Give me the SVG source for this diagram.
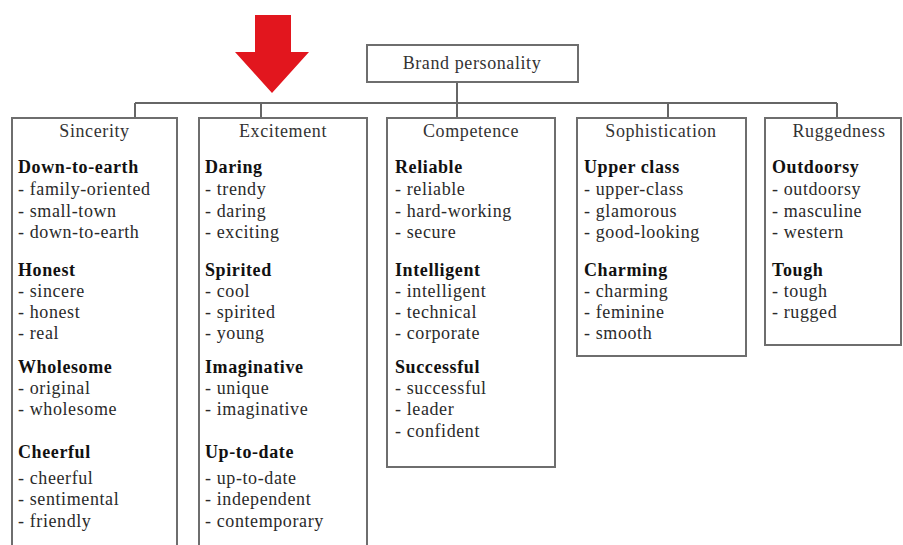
<svg xmlns="http://www.w3.org/2000/svg" width="903" height="545" viewBox="0 0 903 545">
  <style>
    .box { fill: #ffffff; stroke: #6e6e6e; stroke-width: 2; }
    .wire { fill: none; stroke: #666666; stroke-width: 2; }
    text { font-family: "Liberation Serif", "Times New Roman", serif; font-size: 18px; letter-spacing: 0.6px; fill: #2a2a2a; }
    .title { text-anchor: middle; fill: #333333; }
    .head { font-weight: bold; fill: #111111; }
  </style>
  <rect width="903" height="545" fill="#ffffff"/>

  <!-- red pointer arrow -->
  <polygon points="255,15 291,15 291,52 309,52 272,93 235,52 255,52" fill="#e2161e"/>

  <!-- connectors -->
  <g id="connectors">
    <path class="wire" d="M457,82 V103"/>
    <path class="wire" d="M135,103 H837"/>
    <path class="wire" d="M135,103 V118 M261,103 V118 M457,103 V118 M668,103 V118 M837,103 V118"/>
  </g>

  <g id="brand-personality">
    <rect class="box" x="367" y="45" width="211" height="37"/>
    <text class="title" x="472" y="69">Brand personality</text>
  </g>

  <g id="sincerity">
    <rect class="box" x="12" y="118" width="165" height="440"/>
    <text class="title" x="94.5" y="137">Sincerity</text>
    <text class="head" x="18" y="173">Down-to-earth</text>
    <text x="18" y="195">- family-oriented</text>
    <text x="18" y="217">- small-town</text>
    <text x="18" y="238">- down-to-earth</text>
    <text class="head" x="18" y="276">Honest</text>
    <text x="18" y="297">- sincere</text>
    <text x="18" y="318">- honest</text>
    <text x="18" y="339">- real</text>
    <text class="head" x="18" y="373">Wholesome</text>
    <text x="18" y="394">- original</text>
    <text x="18" y="415">- wholesome</text>
    <text class="head" x="18" y="458">Cheerful</text>
    <text x="18" y="484">- cheerful</text>
    <text x="18" y="505">- sentimental</text>
    <text x="18" y="527">- friendly</text>
  </g>

  <g id="excitement">
    <rect class="box" x="199" y="118" width="168" height="440"/>
    <text class="title" x="283" y="137">Excitement</text>
    <text class="head" x="205" y="173">Daring</text>
    <text x="205" y="195">- trendy</text>
    <text x="205" y="217">- daring</text>
    <text x="205" y="238">- exciting</text>
    <text class="head" x="205" y="276">Spirited</text>
    <text x="205" y="297">- cool</text>
    <text x="205" y="318">- spirited</text>
    <text x="205" y="339">- young</text>
    <text class="head" x="205" y="373">Imaginative</text>
    <text x="205" y="394">- unique</text>
    <text x="205" y="415">- imaginative</text>
    <text class="head" x="205" y="458">Up-to-date</text>
    <text x="205" y="484">- up-to-date</text>
    <text x="205" y="505">- independent</text>
    <text x="205" y="527">- contemporary</text>
  </g>

  <g id="competence">
    <rect class="box" x="387" y="118" width="168" height="349"/>
    <text class="title" x="471" y="137">Competence</text>
    <text class="head" x="395" y="173">Reliable</text>
    <text x="395" y="195">- reliable</text>
    <text x="395" y="217">- hard-working</text>
    <text x="395" y="238">- secure</text>
    <text class="head" x="395" y="276">Intelligent</text>
    <text x="395" y="297">- intelligent</text>
    <text x="395" y="318">- technical</text>
    <text x="395" y="339">- corporate</text>
    <text class="head" x="395" y="373">Successful</text>
    <text x="395" y="394">- successful</text>
    <text x="395" y="415">- leader</text>
    <text x="395" y="437">- confident</text>
  </g>

  <g id="sophistication">
    <rect class="box" x="577" y="118" width="169" height="238"/>
    <text class="title" x="661" y="137">Sophistication</text>
    <text class="head" x="584" y="173">Upper class</text>
    <text x="584" y="195">- upper-class</text>
    <text x="584" y="217">- glamorous</text>
    <text x="584" y="238">- good-looking</text>
    <text class="head" x="584" y="276">Charming</text>
    <text x="584" y="297">- charming</text>
    <text x="584" y="318">- feminine</text>
    <text x="584" y="339">- smooth</text>
  </g>

  <g id="ruggedness">
    <rect class="box" x="765" y="118" width="136" height="227"/>
    <text class="title" x="839" y="137">Ruggedness</text>
    <text class="head" x="772" y="173">Outdoorsy</text>
    <text x="772" y="195">- outdoorsy</text>
    <text x="772" y="217">- masculine</text>
    <text x="772" y="238">- western</text>
    <text class="head" x="772" y="276">Tough</text>
    <text x="772" y="297">- tough</text>
    <text x="772" y="318">- rugged</text>
  </g>
</svg>
